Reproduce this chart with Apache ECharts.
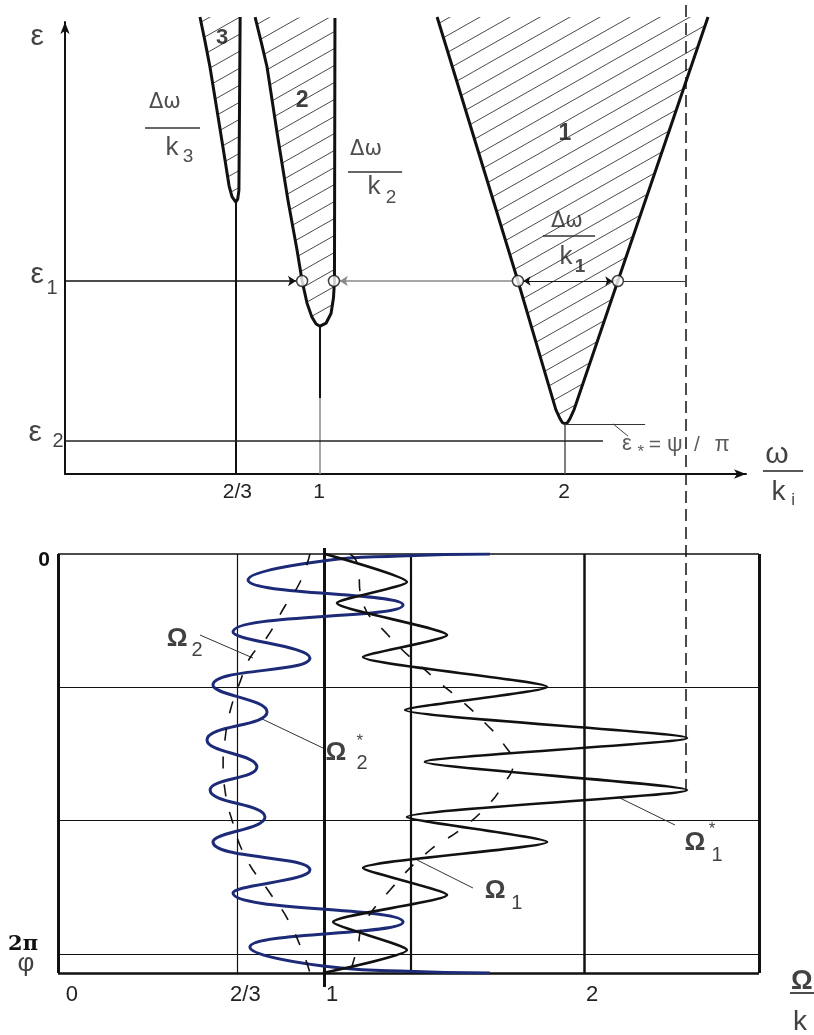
<!DOCTYPE html>
<html><head><meta charset="utf-8">
<script src="https://cdn.jsdelivr.net/npm/echarts@6/dist/echarts.min.js"></script>
<style>html,body{margin:0;padding:0;background:#fff}#c{width:814px;height:1035px}</style>
</head><body><div id="c"></div>
<script>
// ---------------- data ----------------
// top panel: epsilon vs omega/k
const topTickValues = [2/3, 1, 2];
const topTickLabels = ['2/3', '1', '2'];
const eps1 = 4.27, eps2 = 0.73, epsStar = 1.11;
// tongue boundaries [omega/k, epsilon]
const tongue1 = [[1.482,10.11],[1.812,4.27],[1.967,1.42],[1.984,1.22],[1.993,1.14],[2.004,1.11],[2.015,1.14],[2.024,1.22],[2.041,1.42],[2.220,4.27],[2.588,10.11]];
const tongue2 = [[0.739,10.11],[0.767,9.49],[0.788,9.0],[0.829,7.54],[0.873,6.06],[0.910,4.96],[0.931,4.27],[0.951,3.78],[0.971,3.47],[0.988,3.32],[1.004,3.27],[1.029,3.34],[1.049,3.55],[1.059,3.90],[1.063,4.27],[1.065,10.09]];
const tongue3 = [[0.514,10.11],[0.535,9.56],[0.555,9.0],[0.588,7.9],[0.616,6.95],[0.633,6.37],[0.645,6.13],[0.660,6.02],[0.668,6.08],[0.673,6.28],[0.678,10.11]];
const tongueTips = [[0.66,6.02],[1.004,3.27],[2.004,1.11]];
const eps1Circles = [[0.931,eps1],[1.061,eps1],[1.812,eps1],[2.220,eps1]];

// bottom panel: phi (in units of pi) vs Omega/k
const bottomTickValues = [0, 2/3, 1, 2];
const bottomTickLabels = ['0', '2/3', '1', '2'];
const phiTickValues = [0, 2];
const phiTickLabels = ['0', '2π'];
const phiGrid = [2/3, 4/3, 2];
const omegaGrid = [2/3, 1, 4/3, 2];
const omega2Star = [[1.638,0],[1.292,0.01],[0.996,0.035],[0.708,0.13],[1.304,0.255],[0.65,0.39],[0.946,0.52],[0.573,0.655],[0.781,0.79],[0.55,0.93],[0.742,1.065],[0.562,1.18],[0.773,1.315],[0.573,1.44],[0.946,1.58],[0.65,1.695],[1.304,1.84],[0.715,1.965],[0.996,2.06],[1.292,2.085],[1.638,2.095]];
const omega1Star = [[1.004,0],[1.319,0.14],[1.05,0.245],[1.473,0.405],[1.15,0.515],[1.858,0.665],[1.312,0.78],[2.396,0.92],[1.388,1.04],[2.396,1.18],[1.319,1.315],[1.858,1.44],[1.15,1.57],[1.473,1.705],[1.035,1.84],[1.319,1.98],[0.996,2.095]];
const omega1 = [[1.10,0],[1.127,0.045],[1.146,0.23],[1.246,0.405],[1.415,0.61],[1.538,0.745],[1.627,0.855],[1.688,0.945],[1.727,1.05],[1.688,1.155],[1.631,1.255],[1.523,1.38],[1.408,1.48],[1.254,1.68],[1.146,1.87],[1.131,1.955],[1.10,2.095]];
const omega2 = [[0.946,0],[0.908,0.14],[0.850,0.26],[0.781,0.415],[0.715,0.52],[0.677,0.64],[0.638,0.79],[0.619,0.93],[0.612,1.05],[0.619,1.18],[0.646,1.33],[0.70,1.52],[0.792,1.695],[0.862,1.83],[0.927,2.02],[0.946,2.095]];
const omegaLimit = 2.392;

// ---------------- helpers ----------------
const FONT = '"Liberation Sans", Arial, sans-serif';
const WIDE = '"DejaVu Sans", Verdana, sans-serif';
function lookup(vals, labels, v){ for (let i=0;i<vals.length;i++) if (Math.abs(vals[i]-v)<1e-6) return labels[i]; return ''; }
function seg(a, b, w, color, type){ return {coords:[a,b], lineStyle:{width:w, color:color||'#111', type:type||'solid', opacity:1, curveness:0}}; }
function note(t, p, s, bold, color, fam){ return {value:p, label:{show:true, position:'inside', formatter:t, fontSize:s, fontWeight: bold?'bold':'normal', color: color||'#111', fontFamily: fam||FONT}}; }

// hatch pattern
const pc = document.createElement('canvas'); pc.width = 30; pc.height = 17;
const pctx = pc.getContext('2d'); pctx.strokeStyle = '#4a4a4a'; pctx.lineWidth = 1;
for (const k of [-1,0,1]) { pctx.beginPath(); pctx.moveTo(0, 17+17*k); pctx.lineTo(30, 17*k); pctx.stroke(); }
const hatch = {image: pc, repeat: 'repeat'};
const tongues = [tongue1, tongue2, tongue3];

// top annotations
const topNotes = [
  note('ε',[-0.151,9.67],30), note('ε',[-0.151,4.40],30), note('1',[-0.090,4.10],20),
  note('ε',[-0.159,0.91],30), note('2',[-0.065,0.73],20),
  note('3',[0.604,9.65],22,true), note('2',[0.931,8.27],23,true), note('1',[2.004,7.54],23,true),
  note('Δω',[0.371,8.21],21,false,'#222',WIDE), note('k',[0.400,7.21],26,false,'#222'), note('3',[0.465,7.01],19,false,'#222'),
  note('Δω',[1.192,7.17],21,false,'#222',WIDE), note('k',[1.224,6.35],26,false,'#222'), note('2',[1.294,6.11],19,false,'#222'),
  note('Δω',[2.012,5.58],21,false,'#222',WIDE), note('k',[2.008,4.80],26,false,'#222'), note('1',[2.065,4.58],19,true,'#222'),
  note('ε',[2.257,0.66],22,false,'#333'), note('*',[2.314,0.47],17,false,'#333'),
  note('=',[2.371,0.64],21,false,'#333'), note('ψ',[2.453,0.64],22,false,'#333'), note('/',[2.543,0.64],21,false,'#333'), note('π',[2.645,0.64],22,false,'#333'),
  note('ω',[2.869,0.42],30), note('k',[2.876,-0.40],28), note('i',[2.935,-0.58],17)
];
const topPlain = [
  seg([tongueTips[0][0],tongueTips[0][1]],[tongueTips[0][0],0],2),
  seg([tongueTips[1][0],tongueTips[1][1]],[tongueTips[1][0],1.68],2),
  seg([tongueTips[1][0],1.68],[tongueTips[1][0],0],1.5,'#8a8a8a'),
  seg([tongueTips[2][0],tongueTips[2][1]],[tongueTips[2][0],0],1.5,'#555'),
  seg([-0.037,eps2],[2.159,eps2],1.5,'#222'),
  seg([2.004,epsStar],[2.331,epsStar],1.2,'#333'),
  seg([2.2,epsStar],[2.261,0.84],1,'#444'),
  seg([2.244,eps1],[2.494,eps1],1.2,'#333'),
  seg([0.290,7.65],[0.514,7.65],1.5,'#333'),
  seg([1.118,6.68],[1.339,6.68],1.5,'#333'),
  seg([1.914,5.27],[2.127,5.27],1.5,'#333'),
  seg([2.812,0.066],[2.976,0.066],1.5,'#222')
];
const topArrowEnd = [
  seg([-0.037,eps1],[0.906,eps1],1.5,'#111'),
  seg([1.788,eps1],[1.085,eps1],1.5,'#8a8a8a')
];
const topArrowBoth = [ seg([1.835,eps1],[2.197,eps1],1.2,'#111') ];

// bottom annotations
const bottomNotes = [
  note('φ',[-0.146,2.05],26),
  note('Ω',[0.435,0.425],26,true), note('2',[0.512,0.48],20),
  note('Ω',[1.046,0.995],26,true), note('*',[1.138,0.935],17), note('2',[1.146,1.045],20),
  note('Ω',[2.427,1.445],26,true), note('*',[2.492,1.375],17), note('1',[2.512,1.505],20),
  note('Ω',[1.658,1.685],26,true), note('1',[1.742,1.745],20),
  note('Ω',[2.838,2.14],27,true), note('k',[2.831,2.34],28)
];
const xL = -0.023, xR = 2.673, yB = 2.095;
const bottomPlain = [
  seg([xL,0],[xR,0],1.5), seg([xL,yB],[xR,yB],2.5), seg([xL,0],[xL,yB],3), seg([xR,0],[xR,yB],3),
  ...phiGrid.map(v => seg([xL,v],[xR,v],1.2)),
  seg([omegaGrid[0],0],[omegaGrid[0],yB],1.2),
  seg([omegaGrid[1],-0.03],[omegaGrid[1],2.165],3),
  seg([omegaGrid[2],0],[omegaGrid[2],yB],2.2),
  seg([omegaGrid[3],0],[omegaGrid[3],yB],2.5),
  seg([2.792,2.195],[2.885,2.195],1.5)
];
const leaders = [
  seg([0.523,0.405],[0.727,0.52],1,'#333'),
  seg([0.754,0.82],[0.996,0.97],1,'#333'),
  seg([2.138,1.22],[2.35,1.355],1,'#333'),
  seg([1.358,1.53],[1.573,1.67],1,'#333')
];

const chart = echarts.init(document.getElementById('c'), null, {renderer:'canvas'});
chart.setOption({
  animation: false,
  backgroundColor: '#fff',
  grid: [
    {left:65, top:22, width:681, height:452, containLabel:false, outerBoundsMode:'none'},
    {left:58, top:554, width:701, height:419, containLabel:false, outerBoundsMode:'none'}
  ],
  xAxis: [
    {gridIndex:0, type:'value', min:-0.037, max:2.743,
     axisLine:{show:true, onZero:false, symbol:['none','arrow'], symbolSize:[7,12], lineStyle:{color:'#111', width:2}},
     axisTick:{show:false}, splitLine:{show:false},
     axisLabel:{customValues: topTickValues, formatter: v => lookup(topTickValues, topTickLabels, v), fontSize:21, color:'#222', margin:8, fontFamily:FONT}},
    {gridIndex:1, type:'value', min:xL, max:xR,
     axisLine:{show:false}, axisTick:{show:false}, splitLine:{show:false},
     axisLabel:{customValues: bottomTickValues, formatter: v => lookup(bottomTickValues, bottomTickLabels, v), fontSize:22, color:'#222', margin:11, padding:[0,0,0,16], fontFamily:FONT}}
  ],
  yAxis: [
    {gridIndex:0, type:'value', min:0, max:10,
     axisLine:{show:true, onZero:false, symbol:['none','arrow'], symbolSize:[7,12], lineStyle:{color:'#111', width:2}},
     axisTick:{show:false}, splitLine:{show:false}, axisLabel:{show:false}},
    {gridIndex:1, type:'value', min:0, max:yB, inverse:true,
     axisLine:{show:false}, axisTick:{show:false}, splitLine:{show:false},
     axisLabel:{customValues: phiTickValues, margin:8,
       formatter: v => { const t = lookup(phiTickValues, phiTickLabels, v); return v < 1 ? '{z|' + t + '}' : '{p|' + t + '}'; },
       rich:{ z:{fontSize:21, fontWeight:'bold', color:'#111', fontFamily:FONT, padding:[12,0,0,0]},
              p:{fontSize:21, fontWeight:'bold', color:'#111', fontFamily:'"DejaVu Serif", serif', padding:[0,12,18,0]} }}}
  ],
  series: [
    {type:'custom', name:'tongues', coordinateSystem:'cartesian2d', xAxisIndex:0, yAxisIndex:0, clip:false, silent:true,
     data: tongues.map((t,i)=>[i,0]),
     renderItem: (params, api) => {
       const pts = tongues[params.dataIndex].map(p => api.coord(p));
       return {type:'group', children:[
         {type:'polygon', shape:{points:pts}, style:{fill:hatch, stroke:null}},
         {type:'polyline', shape:{points:pts}, style:{fill:null, stroke:'#111', lineWidth:3}}
       ]};
     }},
    {type:'lines', coordinateSystem:'cartesian2d', xAxisIndex:0, yAxisIndex:0, clip:false, silent:true, symbol:['none','none'], lineStyle:{opacity:1}, data: topPlain},
    {type:'lines', coordinateSystem:'cartesian2d', xAxisIndex:0, yAxisIndex:0, clip:false, silent:true, symbol:['none','arrow'], symbolSize:8, lineStyle:{opacity:1}, data: topArrowEnd},
    {type:'lines', coordinateSystem:'cartesian2d', xAxisIndex:0, yAxisIndex:0, clip:false, silent:true, symbol:['arrow','arrow'], symbolSize:7, lineStyle:{opacity:1}, data: topArrowBoth},
    {type:'scatter', xAxisIndex:0, yAxisIndex:0, clip:false, silent:true, symbol:'circle', symbolSize:11, z:5,
     itemStyle:{color:'#fff', borderColor:'#111', borderWidth:1.5}, data: eps1Circles},
    {type:'scatter', xAxisIndex:0, yAxisIndex:0, clip:false, silent:true, symbolSize:1, itemStyle:{color:'rgba(0,0,0,0)'}, z:6, data: topNotes},

    {type:'lines', coordinateSystem:'cartesian2d', xAxisIndex:1, yAxisIndex:1, clip:false, silent:true, symbol:['none','none'], lineStyle:{opacity:1}, data: bottomPlain},
    {type:'line', name:'Ω2*', xAxisIndex:1, yAxisIndex:1, data: omega2Star, showSymbol:false, smooth:0.5, lineStyle:{color:'#1c2a78', width:3}},
    {type:'line', name:'Ω1*', xAxisIndex:1, yAxisIndex:1, data: omega1Star, showSymbol:false, smooth:0.2, lineStyle:{color:'#111', width:2.6}},
    {type:'line', name:'Ω2', xAxisIndex:1, yAxisIndex:1, data: omega2, showSymbol:false, smooth:0.5, lineStyle:{color:'#111', width:1.6, type:[12,16]}},
    {type:'line', name:'Ω1', xAxisIndex:1, yAxisIndex:1, data: omega1, showSymbol:false, smooth:0.5, lineStyle:{color:'#111', width:1.6, type:[12,16]}},
    {type:'lines', coordinateSystem:'cartesian2d', xAxisIndex:1, yAxisIndex:1, clip:false, silent:true, symbol:['none','none'], lineStyle:{opacity:1}, data: leaders},
    {type:'lines', coordinateSystem:'cartesian2d', xAxisIndex:1, yAxisIndex:1, clip:false, silent:true, symbol:['none','none'], lineStyle:{opacity:1},
     data: [seg([omegaLimit,-2.745],[omegaLimit,1.215],1.5,'#111',[12,6])]},
    {type:'scatter', xAxisIndex:1, yAxisIndex:1, clip:false, silent:true, symbolSize:1, itemStyle:{color:'rgba(0,0,0,0)'}, z:6, data: bottomNotes}
  ]
});
</script></body></html>
